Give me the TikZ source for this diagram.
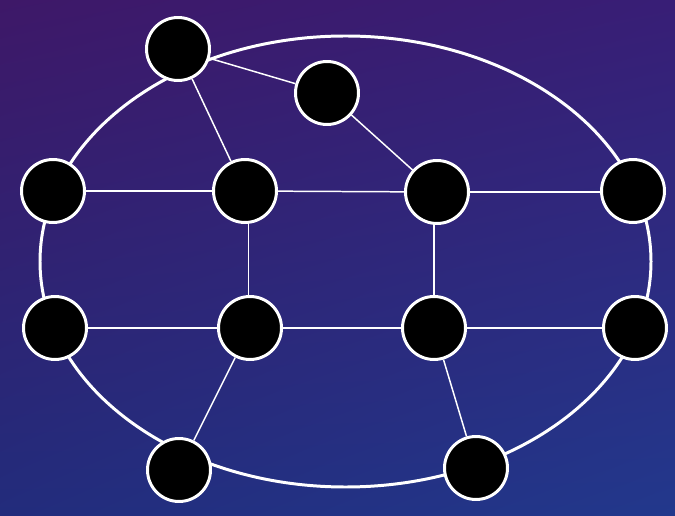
\documentclass[tikz,border=0pt]{standalone}
\usetikzlibrary{positioning, shadings}

\definecolor{bgtl}{RGB}{62,24,104}
\definecolor{bgtr}{RGB}{56,30,118}
\definecolor{bgbl}{RGB}{34,44,124}
\definecolor{bgbr}{RGB}{34,56,140}

\begin{document}
\begin{tikzpicture}[
  x=0.02cm, y=-0.02cm,
  %-- styles -------------------------------------------------------------
  vertex/.style = {draw=white, line width=1.7pt, circle, fill=black,
                   minimum size=1.26cm, inner sep=0pt},
  link/.style   = {draw=white, line width=0.85pt},
  ring/.style   = {draw=white, line width=1.7pt},
]

% ── Background ───────────────────────────────────────────────────────────────
\useasboundingbox (0,0) rectangle (675,516);
\shade[upper left=bgtl, upper right=bgtr, lower left=bgbl, lower right=bgbr]
  (0,0) rectangle (675,516);

% ── Outer ring ───────────────────────────────────────────────────────────────
\draw[ring] (345.5,261.5) ellipse [x radius=305.5, y radius=225.5];

% ── Vertices ─────────────────────────────────────────────────────────────────
\node[vertex] (topA) at (178,49)  {};
\node[vertex] (topB) at (327,93)  {};

\node[vertex] (up1) at (53,191)  {};
\node[vertex] (up2) at (245,191) {};
\node[vertex] (up3) at (437,192) {};
\node[vertex] (up4) at (633,191) {};

\node[vertex] (lo1) at (55,328)  {};
\node[vertex] (lo2) at (250,328) {};
\node[vertex] (lo3) at (434,328) {};
\node[vertex] (lo4) at (635,328) {};

\node[vertex] (botA) at (179,470) {};
\node[vertex] (botB) at (476,468) {};

% ── Inner links ──────────────────────────────────────────────────────────────
\draw[link] (topA) -- (topB);
\draw[link] (topA) -- (up2);
\draw[link] (topB) -- (up3);

\draw[link] (up1) -- (up2);
\draw[link] (up2) -- (up3);
\draw[link] (up3.east) -- (up3.east -| up4.west);

\draw[link] ([xshift=-1pt]lo2.north) -- ([xshift=-1pt]lo2.north |- up2.south);
\draw[link] (lo3.north) -- (lo3.north |- up3.south);

\draw[link] (lo1) -- (lo2);
\draw[link] (lo2) -- (lo3);
\draw[link] (lo3) -- (lo4);

\draw[link] (lo2) -- (botA);
\draw[link] (lo3) -- (botB);

\end{tikzpicture}
\end{document}
